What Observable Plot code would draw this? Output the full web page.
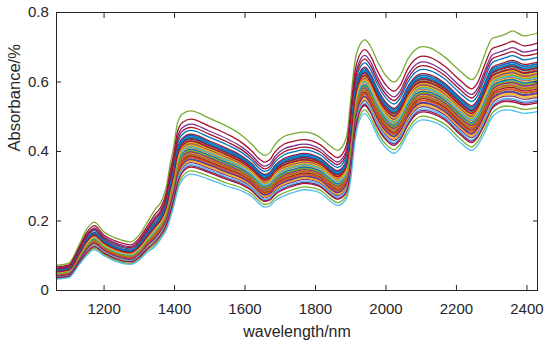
<!DOCTYPE html>
<html>
<head>
<meta charset="utf-8">
<script src="https://cdn.jsdelivr.net/npm/d3@7"></script>
<script src="https://cdn.jsdelivr.net/npm/@observablehq/plot@0.6"></script>
<style>
  html, body { margin: 0; padding: 0; background: #ffffff; }
  #chart svg { display: block; }
</style>
</head>
<body>
<div id="chart"></div>
<script>
const wavelength = [1065,1100,1130,1150,1172,1200,1230,1275,1300,1320,
                    1346,1362,1377,1387,1397,1408,1422,1446,1498,1550,
                    1590,1620,1640,1655,1670,1685,1710,1740,1767,1790,
                    1815,1843,1862,1876,1890,1900,1912,1925,1940,1955,
                    1976,2000,2023,2040,2061,2080,2105,2125,2165,2212,
                    2243,2260,2278,2302,2321,2340,2359,2392,2430];

// Highest spectrum (green outlier)
const upperSpectrum = [0.073,0.079,0.133,0.175,0.197,0.168,0.152,0.140,0.160,0.192,
                       0.235,0.255,0.300,0.360,0.410,0.480,0.508,0.517,0.496,0.472,
                       0.447,0.420,0.398,0.389,0.396,0.420,0.443,0.452,0.456,0.452,
                       0.439,0.415,0.403,0.414,0.453,0.550,0.660,0.705,0.721,0.705,
                       0.659,0.618,0.600,0.617,0.664,0.690,0.702,0.698,0.673,0.630,
                       0.607,0.625,0.673,0.726,0.731,0.738,0.747,0.733,0.741];

// Lowest spectrum (cyan)
const lowerSpectrum = [0.033,0.037,0.075,0.100,0.117,0.100,0.085,0.075,0.088,0.108,
                       0.128,0.150,0.175,0.205,0.240,0.285,0.318,0.335,0.320,0.300,
                       0.287,0.270,0.250,0.240,0.243,0.258,0.272,0.283,0.290,0.288,
                       0.280,0.256,0.245,0.250,0.270,0.320,0.430,0.490,0.509,0.490,
                       0.445,0.410,0.395,0.410,0.450,0.478,0.491,0.488,0.470,0.425,
                       0.403,0.418,0.450,0.500,0.515,0.520,0.518,0.510,0.515];

// Position of each sample's spectrum within the band (0 = lowest, 1 = highest), read per sample
const sampleLevel = [0.55,0.42,0.30,0.79,1.00,0.48,0.87,0.69,0.36,0.22,
                     0.60,0.45,0.33,0.74,0.51,0.27,0.40,0.18,0.57,0.38,
                     0.63,0.24,0.49,0.34,0.13,0.44,0.59,0.29,0.61,0.53,
                     0.20,0.47,0.31,0.15,0.56,0.39,0.26,0.50,0.35,0.05,
                     0.43,0.11,0.58,0.32,0.46,0.23,0.37,0.00,0.52];

const lineColors = ["#0072BD","#D95319","#EDB120","#7E2F8E","#77AC30","#4DBEEE","#A2142F"];
const xTicks = [1200,1400,1600,1800,2000,2200,2400];
const yTicks = [0,0.2,0.4,0.6,0.8];
const xLabel = "wavelength/nm";
const yLabel = "Absorbance/%";

const rows = [];
sampleLevel.forEach((level, s) => {
  wavelength.forEach((w, j) => {
    rows.push({
      sample: s,
      wavelength: w,
      absorbance: lowerSpectrum[j] + level * (upperSpectrum[j] - lowerSpectrum[j]),
      color: lineColors[s % lineColors.length]
    });
  });
});

const axisColor = "#262626";
const chart = Plot.plot({
  width: 550,
  height: 347,
  marginLeft: 56,
  marginRight: 13,
  marginTop: 12,
  marginBottom: 57,
  style: {fontFamily: "'Liberation Sans', Arial, Helvetica, sans-serif", background: "#ffffff", color: axisColor},
  x: {domain: [1065, 2430]},
  y: {domain: [0, 0.8]},
  color: {type: "identity"},
  marks: [
    Plot.line(rows, {x: "wavelength", y: "absorbance", z: "sample", stroke: "color", strokeWidth: 1.3, curve: "monotone-x"}),
    Plot.frame({stroke: axisColor, strokeWidth: 1}),
    Plot.axisX({anchor: "bottom", ticks: xTicks, tickSize: -5, tickPadding: 17.6, fontSize: 15, label: null, tickFormat: d => String(d)}),
    Plot.axisX({anchor: "top", ticks: xTicks, tickSize: -5, label: null, tickFormat: () => ""}),
    Plot.axisY({anchor: "left", ticks: yTicks, tickSize: -5, tickPadding: 12.7, fontSize: 15, label: null, tickFormat: d => String(d)}),
    Plot.axisY({anchor: "right", ticks: yTicks, tickSize: -5, label: null, tickFormat: () => ""}),
    Plot.text([xLabel], {frameAnchor: "bottom", dy: 46, fontSize: 16, lineAnchor: "bottom", fill: axisColor}),
    Plot.text([yLabel], {frameAnchor: "left", dx: -37, rotate: -90, fontSize: 16.5, lineAnchor: "bottom", fill: axisColor})
  ]
});
document.getElementById("chart").appendChild(chart);
</script>
</body>
</html>
